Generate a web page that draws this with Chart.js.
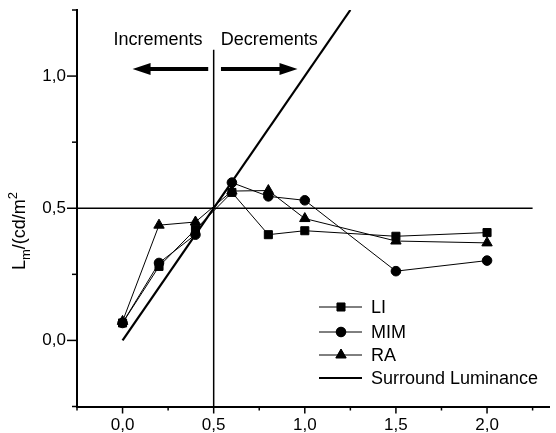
<!DOCTYPE html>
<html>
<head>
<meta charset="utf-8">
<script src="https://cdn.jsdelivr.net/npm/chart.js@4/dist/chart.umd.min.js"></script>
<style>
  html, body { margin: 0; padding: 0; background: #fff; }
  canvas { display: block; }
</style>
</head>
<body>
<canvas id="chart" width="556" height="433"></canvas>
<script>
// ---- data ----
const xValues = [0, 0.2, 0.4, 0.6, 0.8, 1.0, 1.5, 2.0];
const seriesLI = [0.066, 0.28, 0.42, 0.56, 0.40, 0.415, 0.394, 0.408];
const seriesMIM = [0.066, 0.293, 0.40, 0.597, 0.545, 0.53, 0.262, 0.302];
const seriesRA = [0.072, 0.436, 0.448, 0.565, 0.567, 0.461, 0.376, 0.369];
const surroundX = [0, 1.25];
const surroundY = [0, 1.25];

const xTicks = [-0.25, 0, 0.25, 0.5, 0.75, 1.0, 1.25, 1.5, 1.75, 2.0, 2.25];
const xTickLabels = ['', '0,0', '', '0,5', '', '1,0', '', '1,5', '', '2,0', ''];
const yTicks = [-0.25, 0, 0.25, 0.5, 0.75, 1.0, 1.25];
const yTickLabels = ['', '0,0', '', '0,5', '', '1,0', ''];

// reference lines at the 0,5 level
const refVertical = [{ x: 0.5, y: -0.25 }, { x: 0.5, y: 1.10 }];
const refHorizontal = [{ x: -0.25, y: 0.5 }, { x: 2.25, y: 0.5 }];

const FONT = "'Liberation Sans', Arial, sans-serif";
const toPts = (xs, ys) => xs.map((x, i) => ({ x, y: ys[i] }));

// arrows + captions above the plot
const arrows = [
  { from: 0.47, to: 0.055, y: 1.027 },
  { from: 0.54, to: 0.96, y: 1.027 }
];
const captions = [
  { text: 'Increments', x: 0.194, y: 1.137 },
  { text: 'Decrements', x: 0.805, y: 1.137 }
];

const legendItems = [
  { label: 'LI', style: 'rect', r: 5.7 },
  { label: 'MIM', style: 'circle', r: 4.8 },
  { label: 'RA', style: 'triangle', r: 6 },
  { label: 'Surround Luminance', style: null }
];

const extras = {
  id: 'extras',
  afterDraw(chart) {
    const { ctx, scales: { x, y } } = chart;
    ctx.save();
    ctx.strokeStyle = '#000';
    ctx.fillStyle = '#000';

    // ticks (major longer than minor)
    ctx.lineWidth = 1.5;
    xTicks.forEach((v, i) => {
      const px = x.getPixelForValue(v);
      const len = xTickLabels[i] ? 7 : 4;
      ctx.beginPath();
      ctx.moveTo(px, y.bottom);
      ctx.lineTo(px, y.bottom + len);
      ctx.stroke();
    });
    yTicks.forEach((v, i) => {
      const py = y.getPixelForValue(v);
      const len = yTickLabels[i] ? 10 : 5;
      ctx.beginPath();
      ctx.moveTo(x.left, py);
      ctx.lineTo(x.left - len, py);
      ctx.stroke();
    });

    // arrows
    arrows.forEach(a => {
      const x0 = x.getPixelForValue(a.from);
      const x1 = x.getPixelForValue(a.to);
      const py = y.getPixelForValue(a.y);
      const dir = Math.sign(x1 - x0);
      ctx.lineWidth = 4;
      ctx.beginPath();
      ctx.moveTo(x0, py);
      ctx.lineTo(x1 - dir * 12, py);
      ctx.stroke();
      ctx.beginPath();
      ctx.moveTo(x1, py);
      ctx.lineTo(x1 - dir * 18, py - 6);
      ctx.lineTo(x1 - dir * 18, py + 6);
      ctx.closePath();
      ctx.fill();
    });

    ctx.font = '18px ' + FONT;
    ctx.textAlign = 'center';
    ctx.textBaseline = 'middle';
    captions.forEach(c => {
      ctx.fillText(c.text, x.getPixelForValue(c.x), y.getPixelForValue(c.y));
    });

    // legend
    ctx.textAlign = 'left';
    const rows = [307, 332, 355, 378];
    legendItems.forEach((it, i) => {
      const ry = rows[i];
      ctx.lineWidth = it.style ? 1 : 2;
      ctx.beginPath();
      ctx.moveTo(319, ry);
      ctx.lineTo(362, ry);
      ctx.stroke();
      if (it.style) {
        Chart.helpers.drawPoint(ctx, { pointStyle: it.style, radius: it.r, borderWidth: 1 }, 341, ry);
        ctx.fill();
      }
      ctx.fillText(it.label, 371, ry + 1);
    });

    // y axis title: L_m/(cd/m^2
    ctx.translate(25, 270);
    ctx.rotate(-Math.PI / 2);
    ctx.textAlign = 'left';
    ctx.textBaseline = 'alphabetic';
    let cx = 0;
    const part = (t, size, dy) => {
      ctx.font = size + 'px ' + FONT;
      ctx.fillText(t, cx, dy);
      cx += ctx.measureText(t).width;
    };
    part('L', 18, 0);
    part('m', 13, 5);
    part('/(cd/m', 18, 0);
    part('2', 13, -8);
    ctx.restore();
  }
};

const seriesStyle = (style, r) => ({
  showLine: true,
  borderColor: '#000',
  backgroundColor: '#000',
  borderWidth: 1,
  pointStyle: style,
  pointRadius: r,
  pointBorderWidth: 1
});

new Chart(document.getElementById('chart'), {
  type: 'scatter',
  data: {
    datasets: [
      { label: 'LI', data: toPts(xValues, seriesLI), ...seriesStyle('rect', 5.7) },
      { label: 'MIM', data: toPts(xValues, seriesMIM), ...seriesStyle('circle', 4.8) },
      { label: 'RA', data: toPts(xValues, seriesRA), ...seriesStyle('triangle', 6) },
      { label: 'Surround Luminance', data: toPts(surroundX, surroundY), showLine: true,
        borderColor: '#000', borderWidth: 2.2, pointRadius: 0 },
      { label: 'v', data: refVertical, showLine: true, borderColor: '#000', borderWidth: 1.5, pointRadius: 0 },
      { label: 'h', data: refHorizontal, showLine: true, borderColor: '#000', borderWidth: 1.5, pointRadius: 0 }
    ]
  },
  options: {
    responsive: false,
    animation: false,
    layout: { padding: { top: 10, right: 0, left: 0, bottom: 0 } },
    plugins: { legend: { display: false }, tooltip: { enabled: false } },
    scales: {
      x: {
        type: 'linear',
        min: -0.25,
        max: 2.34,
        afterFit: s => { s.height = 26.5; s.paddingLeft = 0; s.paddingRight = 0; },
        afterBuildTicks: s => { s.ticks = xTicks.map(v => ({ value: v })); },
        ticks: {
          autoSkip: false,
          maxRotation: 0,
          padding: 9,
          color: '#000',
          font: { family: FONT, size: 17 },
          callback: (v, i) => xTickLabels[i]
        },
        grid: { drawOnChartArea: false, drawTicks: false },
        border: { color: '#000', width: 2 }
      },
      y: {
        type: 'linear',
        min: -0.25,
        max: 1.25,
        afterFit: s => { s.width = 77; s.paddingTop = 0; s.paddingBottom = 0; },
        afterBuildTicks: s => { s.ticks = yTicks.map(v => ({ value: v })); },
        ticks: {
          autoSkip: false,
          padding: 11,
          color: '#000',
          font: { family: FONT, size: 17 },
          callback: (v, i) => yTickLabels[i]
        },
        grid: { drawOnChartArea: false, drawTicks: false },
        border: { color: '#000', width: 2 }
      }
    }
  },
  plugins: [extras]
});
</script>
</body>
</html>
